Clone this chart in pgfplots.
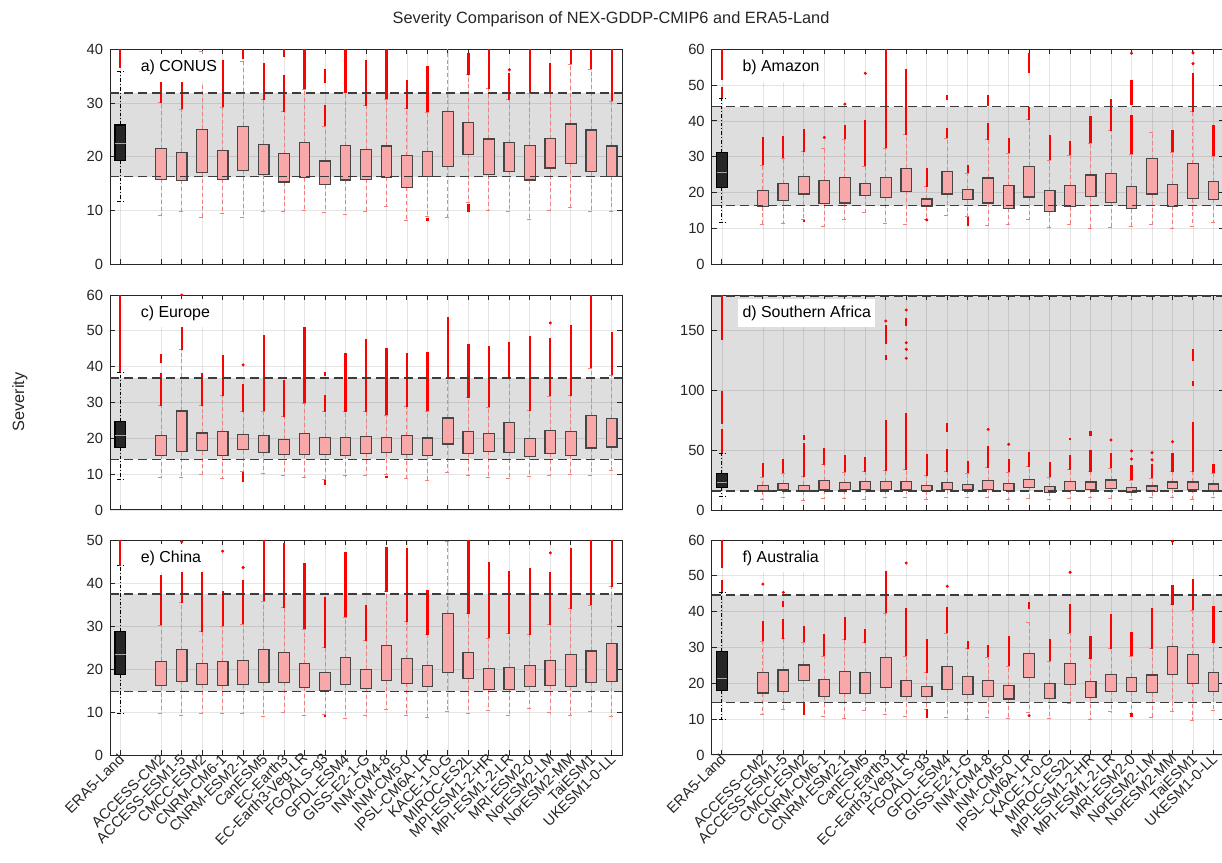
\documentclass[border=0pt]{standalone}
\usepackage{fontspec}
\setmainfont{Liberation Sans}
\usepackage{pgfplots}
\pgfplotsset{compat=1.18}
\usepgfplotslibrary{statistics}
\definecolor{axgray}{RGB}{38,38,38}
\definecolor{boxfill}{RGB}{248,168,168}
\definecolor{boxedge}{RGB}{70,70,70}
\definecolor{whisk}{RGB}{240,128,128}
\definecolor{era}{RGB}{38,38,38}
\definecolor{bandline}{RGB}{60,60,60}
\tikzset{lab/.style={anchor=north west, fill=white, inner xsep=2.2bp, inner ysep=3bp,
    text height=6bp, text depth=2bp, font=\fontsize{8}{9.6}\selectfont}}
\pgfplotsset{
  panel/.style={scale only axis, width=256bp, height=107.5bp, anchor=north west,
    xmin=0.5, xmax=25.5, ymin=0,
    xtick={1,3,4,5,6,7,8,9,10,11,12,13,14,15,16,17,18,19,20,21,22,23,24,25},
    xticklabels={}, grid=major, major grid style={black, opacity=0.1, line width=0.4bp},
    tick align=inside, major tick length=2.5bp,
    axis line style={draw=axgray, line width=0.5bp},
    every tick/.style={axgray, line width=0.5bp},
    ticklabel style={font=\fontsize{7.4}{8.5}\selectfont, text=axgray},
    /pgf/number format/assume math mode=true},
  mb/.style={mark=none, boxplot/draw direction=y, boxplot/box extend=0.52, boxplot/whisker extend=0.28,
    boxplot/every box/.style={draw=boxedge, fill=boxfill, line width=0.6bp},
    boxplot/every whisker/.style={draw=whisk, dash pattern=on 2bp off 1.4bp, line width=0.5bp},
    boxplot/every median/.style={draw=none}},
  eb/.style={mark=none, boxplot/draw direction=y, boxplot/box extend=0.52, boxplot/whisker extend=0.28,
    boxplot/every box/.style={draw=black, fill=era, line width=0.6bp},
    boxplot/every whisker/.style={draw=black, dash pattern=on 1.8bp off 1bp on 0.5bp off 1bp, line width=0.5bp},
    boxplot/every median/.style={draw=gray!70, line width=0.5bp}},
  outl/.style={draw=red, line width=1.1bp},
  outd/.style={only marks, mark=*, mark size=0.55bp, draw=red, fill=red},
  bl/.style={draw=bandline, line width=0.75bp, dash pattern=on 4.5bp off 2.5bp}
}
\newcommand\bx[5]{\addplot[mb, boxplot prepared={draw position=#1, lower whisker=#2, lower quartile=#3, median=#3, upper quartile=#4, upper whisker=#5}] coordinates {};}
\newcommand\eb[6]{\addplot[eb, boxplot prepared={draw position=#1, lower whisker=#2, lower quartile=#3, median=#4, upper quartile=#5, upper whisker=#6}] coordinates {};}
\newcommand\ol[3]{\addplot[outl] coordinates {(#1,#2) (#1,#3)};}
\newcommand\od[2]{\addplot[outd] coordinates {(#1,#2)};}
\newcommand\band[2]{\addplot[draw=none, fill=black, fill opacity=0.13] coordinates {(0.5,#1) (25.5,#1) (25.5,#2) (0.5,#2)} -- cycle;}
\newcommand\bandl[2]{\addplot[bl] coordinates {(0.5,#1) (25.5,#1)}; \addplot[bl] coordinates {(0.5,#2) (25.5,#2)};}
\begin{document}
\begin{tikzpicture}
\useasboundingbox (0,0) rectangle (611bp,-431.5bp);
\node[font=\fontsize{8.2}{10}\selectfont, text=axgray] at (305.5bp,-9.5bp) {Severity Comparison of NEX-GDDP-CMIP6 and ERA5-Land};
\node[rotate=90, font=\fontsize{8.2}{10}\selectfont, text=axgray] at (10bp,-201bp) {Severity};

% a) CONUS
\begin{axis}[panel, at={(55bp,-24.65bp)}, ymax=40, ytick={0,10,20,30,40}]
\band{16.3}{31.9}
\eb{1}{11.6}{19.3}{22.5}{25.9}{35.8} \ol{1}{36.5}{42}
\bx{3}{9.1}{15.8}{21.5}{30.1} \ol{3}{30.1}{34.2}
\bx{4}{9.8}{15.6}{20.8}{28.8} \ol{4}{28.8}{34.2}
\bx{5}{8.7}{17.1}{25.1}{39.6} \ol{5}{39.8}{42}
\bx{6}{9.4}{15.8}{21.1}{29.2} \ol{6}{29.2}{38.0}
\bx{7}{8.7}{17.5}{25.7}{37.8} \ol{7}{38.2}{42}
\bx{8}{9.9}{16.7}{22.3}{30.6} \ol{8}{30.6}{37.4}
\bx{9}{9.9}{15.3}{20.6}{28.4} \ol{9}{28.4}{35.2} \ol{9}{38.5}{42}
\bx{10}{10.0}{16.1}{22.6}{32.6} \ol{10}{32.6}{42}
\bx{11}{9.6}{14.8}{19.2}{25.7} \ol{11}{25.7}{29.6} \ol{11}{33.7}{36.3}
\bx{12}{9.2}{15.7}{22.1}{31.9} \ol{12}{31.9}{42}
\bx{13}{9.8}{15.8}{21.3}{29.5} \ol{13}{29.5}{38.1}
\bx{14}{10.7}{16.2}{22.0}{30.7} \ol{14}{30.7}{42}
\bx{15}{8.1}{14.3}{20.2}{28.9} \ol{15}{28.9}{34.2}
\bx{16}{8.9}{16.3}{21.0}{28.3} \ol{16}{28.3}{36.9} \ol{16}{8.0}{8.7}
\bx{17}{8.7}{18.2}{28.5}{41}
\bx{18}{11.5}{20.5}{26.4}{35.3} \ol{18}{35.3}{39.3} \ol{18}{9.8}{11.2}
\bx{19}{10.1}{16.7}{23.3}{32.7} \ol{19}{32.7}{42}
\bx{20}{9.9}{17.3}{22.6}{30.6} \ol{20}{30.6}{35.6} \od{20}{36.2}
\bx{21}{8.4}{15.7}{22.1}{31.8} \ol{21}{31.8}{42}
\bx{22}{10.1}{17.9}{23.4}{31.8} \ol{22}{31.8}{37.4}
\bx{23}{10.5}{18.8}{26.1}{37.2} \ol{23}{37.2}{42}
\bx{24}{9.8}{17.2}{25.0}{36.3} \ol{24}{36.3}{42}
\bx{25}{9.8}{16.4}{22.0}{30.3} \ol{25}{30.3}{42}
\bandl{16.3}{31.9}
\node[lab] at (rel axis cs:0.0508,0.981) {a) CONUS};
\end{axis}

% b) Amazon
\begin{axis}[panel, at={(355.85bp,-24.65bp)}, ymax=60, ytick={0,10,20,30,40,50,60}]
\band{16.4}{44.0}
\eb{1}{11.7}{21.4}{25.7}{31.3}{46.3} \ol{1}{46.3}{49.5} \ol{1}{51.5}{62}
\bx{3}{11.0}{16.1}{20.7}{27.7} \ol{3}{27.7}{35.4}
\bx{4}{11.4}{17.8}{22.5}{29.6} \ol{4}{29.6}{35.8}
\bx{5}{12.6}{19.6}{24.4}{31.4} \ol{5}{31.4}{37.7} \ol{5}{11.8}{12.4}
\bx{6}{10.5}{16.9}{23.4}{32.4} \od{6}{35.4}
\bx{7}{12.4}{17.1}{24.2}{34.9} \ol{7}{34.9}{38.9} \od{7}{44.7}
\bx{8}{14.4}{19.2}{22.5}{27.3} \ol{8}{27.3}{40.3} \od{8}{53.3}
\bx{9}{11.4}{18.7}{24.2}{32.4} \ol{9}{32.4}{62}
\bx{10}{11.2}{20.4}{26.8}{36.1} \ol{10}{36.1}{54.4}
\bx{11}{12.6}{16.1}{18.2}{21.7} \ol{11}{21.7}{26.8} \od{11}{12.4}
\bx{12}{13.6}{19.6}{26.0}{35.2} \ol{12}{35.2}{38.0} \ol{12}{45.9}{47.2}
\bx{13}{13.3}{18.0}{20.9}{25.4} \ol{13}{25.4}{27.7} \ol{13}{10.7}{13.3}
\bx{14}{10.8}{17.1}{24.1}{34.7} \ol{14}{34.7}{39.3} \ol{14}{44.2}{47.2}
\bx{15}{11.0}{15.6}{21.9}{31.0} \ol{15}{31.0}{35.2}
\bx{16}{12.6}{18.8}{27.4}{40.3} \ol{16}{40.3}{43.8} \ol{16}{53.3}{58.9}
\bx{17}{10.2}{14.7}{20.5}{29.1} \ol{17}{29.1}{36.1}
\bx{18}{11.2}{16.1}{21.9}{30.5} \ol{18}{30.5}{34.4}
\bx{19}{10.0}{18.9}{24.9}{33.8} \ol{19}{33.8}{41.4}
\bx{20}{10.3}{17.3}{25.4}{37.2} \ol{20}{37.2}{46.0}
\bx{21}{10.5}{15.5}{21.7}{30.7} \ol{21}{30.7}{41.7} \ol{21}{44.5}{51.4} \od{21}{58.9}
\bx{22}{11.2}{19.6}{29.5}{36.8}
\bx{23}{10.0}{16.2}{22.2}{31.2} \ol{23}{31.2}{37.5}
\bx{24}{10.5}{18.3}{28.1}{42.6} \ol{24}{42.6}{53.3} \od{24}{56} \od{24}{59}
\bx{25}{11.7}{18.1}{23.1}{30.2} \ol{25}{30.2}{38.9}
\bandl{16.4}{44.0}
\node[lab] at (rel axis cs:0.0508,0.981) {b) Amazon};
\end{axis}

% c) Europe
\begin{axis}[panel, at={(55bp,-147.5bp)}, ymax=60, ytick={0,10,20,30,40,50,60}]
\band{14.1}{36.9}
\eb{1}{8.4}{17.5}{20.7}{24.8}{38.5} \ol{1}{38.5}{62}
\bx{3}{9.1}{15.3}{20.8}{29.1} \ol{3}{29.1}{38.1} \ol{3}{41.0}{43.4}
\bx{4}{9.1}{16.3}{27.6}{44.7} \ol{4}{44.7}{51.4} \od{4}{60}
\bx{5}{10.0}{16.5}{21.5}{29.1} \ol{5}{29.1}{38.1}
\bx{6}{8.8}{15.2}{21.9}{31.9} \ol{6}{31.9}{43.3}
\bx{7}{10.7}{16.8}{21.1}{27.4} \ol{7}{27.4}{35.2} \od{7}{40.5} \ol{7}{7.9}{10.5}
\bx{8}{10.2}{16.1}{20.7}{27.6} \ol{8}{27.6}{48.7}
\bx{9}{9.5}{15.5}{19.7}{26.0} \ol{9}{26.0}{36.3}
\bx{10}{9.1}{15.5}{21.3}{29.8} \ol{10}{29.8}{51.2}
\bx{11}{8.6}{15.5}{20.3}{27.4} \ol{11}{27.4}{32.1} \ol{11}{37.5}{38.6} \ol{11}{7.0}{8.4}
\bx{12}{9.5}{15.3}{20.3}{27.4} \ol{12}{27.4}{43.9}
\bx{13}{9.5}{15.8}{20.6}{27.4} \ol{13}{27.4}{47.6}
\bx{14}{9.8}{16.0}{20.2}{26.5} \ol{14}{26.5}{45.1} \ol{14}{8.8}{9.6}
\bx{15}{8.7}{15.5}{20.7}{28.8} \ol{15}{28.8}{43.7}
\bx{16}{8.3}{15.2}{20.1}{27.5} \ol{16}{27.5}{44.1}
\bx{17}{10.6}{18.4}{25.7}{36.7} \ol{17}{36.7}{54.0}
\bx{18}{9.6}{15.8}{22.0}{31.3} \ol{18}{31.3}{46.3}
\bx{19}{9.2}{16.4}{21.3}{28.7} \ol{19}{28.7}{45.7}
\bx{20}{8.7}{16.1}{24.5}{36.8} \ol{20}{36.8}{46.9}
\bx{21}{9.4}{15.0}{19.9}{27.7} \ol{21}{27.7}{48.5}
\bx{22}{9.6}{15.8}{22.1}{31.7} \ol{22}{31.7}{48.0} \od{22}{52.2}
\bx{23}{9.9}{15.3}{22.0}{31.9} \ol{23}{31.9}{51.5}
\bx{24}{9.6}{17.3}{26.3}{39.6} \ol{24}{39.6}{62}
\bx{25}{11.0}{17.6}{25.6}{37.6} \ol{25}{37.6}{49.7}
\bandl{14.1}{36.9}
\node[lab] at (rel axis cs:0.0508,0.981) {c) Europe};
\end{axis}

% d) Southern Africa
\begin{axis}[panel, at={(355.85bp,-147.5bp)}, ymax=180, ytick={0,50,100,150}]
\band{15.9}{179}
\eb{1}{11.7}{18.7}{22.9}{30.7}{47.4} \ol{1}{47.4}{68} \ol{1}{72}{100} \ol{1}{142}{185}
\bx{3}{9.2}{15.9}{20.7}{27.4} \ol{3}{27.4}{39.1}
\bx{4}{10.6}{16.7}{22.0}{30.7} \ol{4}{30.7}{42.7}
\bx{5}{7.8}{15.9}{20.7}{27.9} \ol{5}{27.9}{56} \ol{5}{58.6}{62.8}
\bx{6}{9.8}{16.7}{24.6}{37.7} \ol{6}{37.7}{51.6}
\bx{7}{9.8}{17.0}{22.9}{31.8} \ol{7}{31.8}{46.0}
\bx{8}{8.9}{17.3}{23.7}{32.1} \ol{8}{32.1}{44.7}
\bx{9}{10.6}{17.0}{23.7}{32.9} \ol{9}{32.9}{75.4} \ol{9}{125.6}{130} \ol{9}{139}{155} \od{9}{158.2}
\bx{10}{10.3}{16.7}{24.0}{33.5} \ol{10}{33.5}{81.5} \od{10}{127} \od{10}{134.5} \od{10}{140} \ol{10}{154}{161} \od{10}{167.5}
\bx{11}{8.9}{16.2}{20.7}{28.5} \ol{11}{28.5}{46.9}
\bx{12}{10.3}{17.0}{23.2}{32.1} \ol{12}{32.1}{50.8} \ol{12}{65.6}{72.6}
\bx{13}{10.3}{16.7}{21.5}{30.7} \ol{13}{30.7}{41.0}
\bx{14}{10.3}{17.3}{24.6}{35.2} \ol{14}{35.2}{53.6} \od{14}{67.5}
\bx{15}{8.9}{16.5}{22.3}{31.8} \ol{15}{31.8}{42.4} \od{15}{55.0}
\bx{16}{9.8}{19.0}{25.7}{36.3} \ol{16}{36.3}{48.8}
\bx{17}{8.4}{14.8}{19.5}{27.4} \ol{17}{27.4}{40.5}
\bx{18}{9.8}{16.5}{23.7}{33.5} \ol{18}{33.5}{46.0} \ol{18}{58.3}{60}
\bx{19}{10.3}{17.3}{23.4}{32.1} \ol{19}{32.1}{50} \ol{19}{62}{66.4}
\bx{20}{9.8}{17.9}{25.1}{34.9} \ol{20}{34.9}{48.0} \od{20}{58.6}
\bx{21}{8.9}{15.1}{19.0}{25.1} \ol{21}{25.1}{37.7} \od{21}{42.7} \od{21}{49.4}
\bx{22}{10.3}{15.4}{20.1}{26.5} \ol{22}{26.5}{38.5} \od{22}{42} \od{22}{48}
\bx{23}{10.3}{17.9}{23.4}{32.1} \ol{23}{32.1}{47.4} \od{23}{57.2}
\bx{24}{8.9}{17.3}{23.4}{32.1} \ol{24}{32.1}{74.0} \ol{24}{104}{108} \ol{24}{125}{134.5}
\bx{25}{10.3}{15.9}{21.8}{30.7} \ol{25}{30.7}{38.2}
\bandl{15.9}{179}
\node[lab] at (rel axis cs:0.0508,0.981) {d) Southern Africa};
\end{axis}

% e) China
\begin{axis}[panel, at={(55bp,-270bp)}, ymax=50, ytick={0,10,20,30,40,50},
  xticklabels={ERA5-Land, ACCESS-CM2, ACCESS-ESM1-5, CMCC-ESM2, CNRM-CM6-1, CNRM-ESM2-1, CanESM5, EC-Earth3, EC-Earth3-Veg-LR, FGOALS-g3, GFDL-ESM4, GISS-E2-1-G, INM-CM4-8, INM-CM5-0, IPSL-CM6A-LR, KACE-1-0-G, MIROC-ES2L, MPI-ESM1-2-HR, MPI-ESM1-2-LR, MRI-ESM2-0, NorESM2-LM, NorESM2-MM, TaiESM1, UKESM1-0-LL},
  xticklabel style={rotate=45, anchor=east, inner sep=1.5bp, xshift=1.5bp, yshift=-1bp}]
\band{14.8}{37.4}
\eb{1}{9.7}{18.8}{23.3}{28.8}{44.0} \ol{1}{44.0}{52}
\bx{3}{9.7}{16.1}{21.8}{30.2} \ol{3}{30.2}{41.9}
\bx{4}{9.1}{17.1}{24.5}{35.4} \ol{4}{35.4}{42.6} \od{4}{49.6}
\bx{5}{9.7}{16.4}{21.3}{28.7} \ol{5}{28.7}{42.6}
\bx{6}{9.7}{16.2}{21.7}{30.0} \ol{6}{30.0}{38.2} \od{6}{47.4}
\bx{7}{9.7}{16.4}{22.0}{30.4} \ol{7}{30.4}{40.7} \od{7}{43.6}
\bx{8}{8.9}{16.9}{24.5}{35.7} \ol{8}{35.7}{52}
\bx{9}{9.8}{16.9}{23.8}{34.3} \ol{9}{34.3}{49.2}
\bx{10}{9.3}{15.7}{21.2}{29.2} \ol{10}{29.2}{44.6}
\bx{11}{9.4}{15.0}{19.1}{25.0} \ol{11}{25.0}{36.8} \ol{11}{8.8}{9.3}
\bx{12}{8.4}{16.4}{22.6}{32.0} \ol{12}{32.0}{47.3}
\bx{13}{9.1}{15.5}{19.9}{26.6} \ol{13}{26.6}{34.9}
\bx{14}{10.5}{17.3}{25.5}{38.0} \ol{14}{38.0}{48.4}
\bx{15}{9.1}{16.7}{22.4}{31.0} \ol{15}{31.0}{48.1}
\bx{16}{8.8}{15.9}{20.9}{28.0} \ol{16}{28.0}{38.3}
\bx{17}{10.2}{19.2}{32.9}{49.7}
\bx{18}{9.6}{17.7}{23.9}{32.9} \ol{18}{32.9}{52}
\bx{19}{10.4}{15.2}{20.1}{27.2} \ol{19}{27.2}{44.8}
\bx{20}{9.1}{15.2}{20.4}{28.2} \ol{20}{28.2}{42.9}
\bx{21}{10.7}{16.0}{20.9}{28.0} \ol{21}{28.0}{43.5}
\bx{22}{9.8}{16.2}{22.0}{30.3} \ol{22}{30.3}{42.5} \od{22}{47.0}
\bx{23}{9.1}{16.0}{23.3}{34.0} \ol{23}{34.0}{48.1}
\bx{24}{10.2}{16.9}{24.2}{34.8} \ol{24}{34.8}{52}
\bx{25}{9.0}{17.1}{26.0}{39.1} \ol{25}{39.1}{52}
\bandl{14.8}{37.4}
\node[lab] at (rel axis cs:0.0508,0.981) {e) China};
\end{axis}

% f) Australia
\begin{axis}[panel, at={(355.85bp,-270bp)}, ymax=60, ytick={0,10,20,30,40,50,60},
  xticklabels={ERA5-Land, ACCESS-CM2, ACCESS-ESM1-5, CMCC-ESM2, CNRM-CM6-1, CNRM-ESM2-1, CanESM5, EC-Earth3, EC-Earth3-Veg-LR, FGOALS-g3, GFDL-ESM4, GISS-E2-1-G, INM-CM4-8, INM-CM5-0, IPSL-CM6A-LR, KACE-1-0-G, MIROC-ES2L, MPI-ESM1-2-HR, MPI-ESM1-2-LR, MRI-ESM2-0, NorESM2-LM, NorESM2-MM, TaiESM1, UKESM1-0-LL},
  xticklabel style={rotate=45, anchor=east, inner sep=1.5bp, xshift=1.5bp, yshift=-1bp}]
\band{14.7}{44.7}
\eb{1}{10.0}{17.9}{21.4}{28.9}{45.4} \ol{1}{45.4}{48.7} \ol{1}{52.2}{62}
\bx{3}{11.4}{17.3}{23.1}{31.7} \ol{3}{31.7}{37.3} \od{3}{47.7}
\bx{4}{12.8}{17.8}{23.7}{32.5} \ol{4}{32.5}{38.0} \ol{4}{41.3}{42.9} \od{4}{45.4}
\bx{5}{14.7}{20.8}{25.1}{31.4} \ol{5}{31.4}{35.9} \ol{5}{11.3}{14.7}
\bx{6}{10.8}{16.4}{21.0}{27.5} \ol{6}{27.5}{33.8}
\bx{7}{10.3}{17.2}{23.3}{32.2} \ol{7}{32.2}{38.5}
\bx{8}{12.4}{17.1}{23.1}{31.3} \ol{8}{31.3}{35.2}
\bx{9}{11.4}{18.9}{27.3}{39.6} \ol{9}{39.6}{51.3}
\bx{10}{10.8}{16.4}{20.9}{27.5} \ol{10}{27.5}{41.0} \od{10}{53.6}
\bx{11}{12.7}{16.4}{19.1}{22.9} \ol{11}{22.9}{32.4} \ol{11}{10.3}{12.7}
\bx{12}{10.6}{18.3}{24.6}{34.0} \ol{12}{34.0}{41.3} \od{12}{47.1}
\bx{13}{9.9}{16.8}{22.0}{29.6} \ol{13}{29.6}{31.7}
\bx{14}{10.6}{16.4}{20.8}{27.3} \ol{14}{27.3}{30.6}
\bx{15}{10.1}{15.6}{19.3}{24.7} \ol{15}{24.7}{33.1}
\bx{16}{11.9}{21.6}{28.3}{37.0} \ol{16}{40.7}{42.6} \od{16}{11.0}
\bx{17}{10.3}{15.8}{19.9}{26.1} \ol{17}{26.1}{32.4}
\bx{18}{14.5}{19.6}{25.5}{34.0} \ol{18}{34.0}{42.2} \od{18}{51.0}
\bx{19}{10.0}{16.1}{20.4}{26.9} \ol{19}{26.9}{33.3}
\bx{20}{12.0}{17.8}{22.4}{29.6} \ol{20}{29.6}{39.3}
\bx{21}{11.7}{17.7}{21.7}{27.5} \ol{21}{27.5}{34.2} \ol{21}{10.6}{11.7}
\bx{22}{10.5}{17.4}{22.3}{29.6} \ol{22}{29.6}{41.0}
\bx{23}{12.0}{22.5}{30.2}{42.0} \ol{23}{42.0}{47.5} \od{23}{59.6}
\bx{24}{9.6}{20.0}{28.0}{40.4} \ol{24}{40.4}{49.2}
\bx{25}{12.5}{17.7}{23.1}{31.3} \ol{25}{31.3}{41.7}
\bandl{14.7}{44.7}
\node[lab] at (rel axis cs:0.0508,0.981) {f) Australia};
\end{axis}
\end{tikzpicture}
\end{document}
